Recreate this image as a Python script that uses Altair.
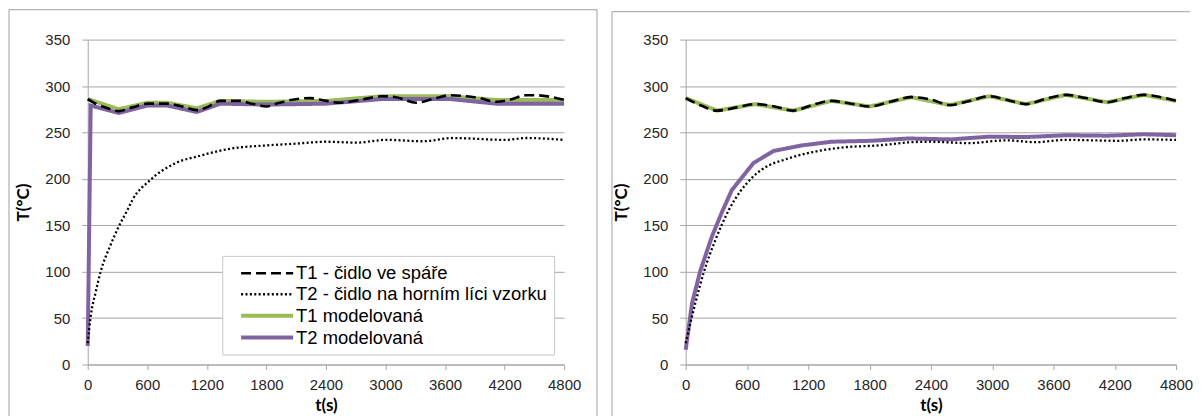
import altair as alt
import pandas as pd

# ---------------- data ----------------
names = ["T1 - čidlo ve spáře", "T2 - čidlo na horním líci vzorku",
         "T1 modelovaná", "T2 modelovaná"]
colors = ["#000000", "#000000", "#9BBB59", "#8064A2"]
dashes = [[10, 5], [2, 2.4], [1, 0], [1, 0]]
widths = [2.6, 2.3, 4, 4]
x_ticks = [0, 600, 1200, 1800, 2400, 3000, 3600, 4200, 4800]
y_ticks = [0, 50, 100, 150, 200, 250, 300, 350]

# left panel
L_t1_t = [0, 100, 200, 311, 450, 600, 800, 950, 1100, 1200, 1335, 1536, 1650, 1804, 1900, 2005,
          2239, 2406, 2540, 2741, 2972, 3106, 3310, 3511, 3645, 3812, 3946, 4113, 4247, 4415,
          4515, 4680, 4800]
L_t1_v = [286, 280, 276, 273, 277, 281, 281, 278, 274, 277, 284, 284, 281, 278, 281, 284,
          287, 284, 282, 285, 289, 288, 282, 287, 290, 289, 287, 283, 285, 290,
          290, 288, 285]
L_t2_t = [0, 30, 80, 130, 231, 314, 398, 449, 633, 867, 1135, 1468, 1804, 2105, 2400, 2708,
          3009, 3380, 3677, 4210, 4410, 4800]
L_t2_v = [23, 52, 78, 100, 129, 149, 166, 177, 199, 216, 225, 233, 236, 238, 240, 239,
          242, 240.5, 244, 242, 244, 242]
L_m1_t = [0, 311, 600, 800, 1100, 1335, 1800, 2400, 2970, 3650, 4113, 4800]
L_m1_v = [286, 275, 282, 282, 276, 284, 283, 284, 289, 289, 285, 285]
L_m2_t = [0, 30, 311, 600, 800, 1100, 1335, 1800, 2400, 2970, 3650, 4113, 4800]
L_m2_v = [20, 279, 271, 279, 279, 272, 281, 280, 281, 286, 286, 281, 281]

# right panel
R_t1_t = [0, 150, 306, 500, 680, 870, 1054, 1250, 1428, 1620, 1802, 2000, 2208, 2400, 2582,
          2780, 2973, 3150, 3330, 3520, 3720, 3920, 4127, 4300, 4485, 4650, 4800]
R_t1_v = [287, 279, 273.5, 277, 280.5, 278, 273.5, 280, 284, 281, 278, 283, 288, 285.5, 279.5,
          284, 289, 285, 280.5, 286, 290.5, 287, 282.5, 287, 290.5, 288, 284]
R_t2_t = [0, 94, 176, 290, 420, 647, 745, 1005, 1298, 1558, 1883, 2208, 2400, 2770, 3140,
          3430, 3720, 4240, 4480, 4800]
R_t2_v = [23, 66, 99, 134, 166, 201, 210, 222, 230, 234, 236, 239.5, 240, 238.5, 241.5,
          239.5, 242, 241, 242.5, 242]
R_m1_t = [0, 306, 680, 1054, 1428, 1802, 2208, 2582, 2973, 3330, 3720, 4127, 4485, 4800]
R_m1_v = [287, 273.5, 280.5, 273.5, 284, 278, 288, 279.5, 289, 280.5, 290.5, 282.5, 290.5, 284]
R_m2_t = [0, 62, 143, 257, 354, 452, 663, 859, 1135, 1428, 1818, 2176, 2600, 2973, 3330,
          3720, 4127, 4485, 4800]
R_m2_v = [16, 66, 101, 138, 164, 188, 217, 230, 236, 240, 241, 243.5, 242.5, 245.5, 245,
          247, 246.5, 248, 247]


def long_df(series_list):
    rows = []
    for name, ts, vs in series_list:
        for t, v in zip(ts, vs):
            rows.append({"t": t, "T": v, "series": name})
    return pd.DataFrame(rows)


left_df = long_df([(names[0], L_t1_t, L_t1_v), (names[1], L_t2_t, L_t2_v),
                   (names[2], L_m1_t, L_m1_v), (names[3], L_m2_t, L_m2_v)])
right_df = long_df([(names[0], R_t1_t, R_t1_v), (names[1], R_t2_t, R_t2_v),
                    (names[2], R_m1_t, R_m1_v), (names[3], R_m2_t, R_m2_v)])

GRID = "#a6a6a6"
FRAME = "#a0a0a0"
LABEL_FONT = "Liberation Sans"
TITLE_FONT = "Lato"
H = 326

frame_df = pd.DataFrame({"k": [0]})


def frame(left, right, top, bottom, right_edge):
    base = alt.Chart(frame_df).mark_rule(color=FRAME, strokeWidth=1)
    parts = [
        base.encode(x=alt.value(left), x2=alt.value(right), y=alt.value(top)),
        base.encode(x=alt.value(left), y=alt.value(top), y2=alt.value(bottom)),
    ]
    if right_edge:
        parts.append(base.encode(x=alt.value(right), y=alt.value(top), y2=alt.value(bottom)))
    return parts


def panel(df, width, show_legend, frame_parts):
    if show_legend:
        leg = alt.Legend(
            orient="none", legendX=135, legendY=217,
            symbolType="M-2.9,0L2.9,0", symbolSize=324,
            labelFontSize=18.5, labelFont=LABEL_FONT, labelColor="#000000",
            padding=7, rowPadding=1, labelOffset=18, symbolOffset=27,
            strokeColor="#c8c8c8", fillColor="#ffffff", labelLimit=500,
        )
    else:
        leg = None
    xenc = alt.X("t:Q", title="t(s)",
                 scale=alt.Scale(domain=[0, 4800], nice=False),
                 axis=alt.Axis(values=x_ticks, grid=False, tickSize=5, labelPadding=8,
                               labelFlush=False, titlePadding=5, format="d"))
    yenc = alt.Y("T:Q", title="T(°C)",
                 scale=alt.Scale(domain=[0, 350], nice=False),
                 axis=alt.Axis(values=y_ticks, grid=True, tickSize=6, labelPadding=12,
                               labelFlush=False, titlePadding=12, format="d"))
    common = dict(
        x=xenc, y=yenc,
        color=alt.Color("series:N", title=None, legend=leg,
                        scale=alt.Scale(domain=names, range=colors)),
        strokeDash=alt.StrokeDash("series:N", title=None, legend=leg,
                                  scale=alt.Scale(domain=names, range=dashes)),
        strokeWidth=alt.StrokeWidth("series:N", title=None, legend=leg,
                                    scale=alt.Scale(type="ordinal", domain=names, range=widths)),
    )
    draw_order = [(names[2], "linear"), (names[3], "linear"),
                  (names[0], "monotone"), (names[1], "monotone")]
    lines = [
        alt.Chart(df).transform_filter(alt.datum.series == n)
        .mark_line(interpolate=interp)
        .encode(**common)
        for n, interp in draw_order
    ]
    return alt.layer(*frame_parts, *lines).properties(width=width, height=H)


left = panel(left_df, 478, True, frame(-79, 511, -30, 392, True))
right = panel(right_df, 492, False, frame(-74, 506, -28, 392, False))

chart = (
    alt.hconcat(left, right, spacing=122, bounds="flush", padding=0)
    .resolve_scale(color="independent", strokeDash="independent", strokeWidth="independent")
    .configure_view(stroke=None)
    .configure_axis(
        labelFont=LABEL_FONT, labelFontSize=15, labelColor="#262626",
        titleFont=TITLE_FONT, titleFontSize=17, titleFontWeight="bold", titleColor="#000000",
        domainColor=GRID, tickColor=GRID, gridColor=GRID, gridWidth=1,
    )
)

chart.save("out.html", embed_options={"renderer": "svg", "actions": False})
